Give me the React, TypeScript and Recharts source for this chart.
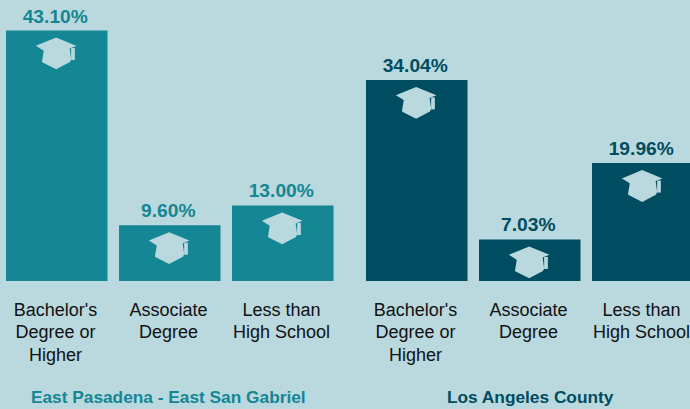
import React from "react";
import { BarChart, Bar, XAxis, YAxis, LabelList, Rectangle } from "recharts";

const categories = ["Bachelor's|Degree or|Higher", "Associate|Degree", "Less than|High School"];
const eastValues = [43.1, 9.6, 13.0];
const laValues = [34.04, 7.03, 19.96];
const eastTitle = "East Pasadena - East San Gabriel";
const laTitle = "Los Angeles County";

const BG = "#b9d9df";
const FONT = "'Liberation Sans', Arial, sans-serif";

const capShape = (fill: string) => (props: any) => {
  const { x, y, width, height } = props;
  const cx = x + width / 2 - 0.6;
  const t = y + 7;
  return (
    <g>
      <Rectangle x={x} y={y} width={width} height={height} fill={fill} />
      <g transform={`translate(${cx},${t})`} fill={BG}>
        <path d="M0 0 L20.3 8.4 L13.5 11 L15 22 L13.8 24.6 L0 31.8 L-13.4 25 L-14.2 24.2 L-12.4 13.2 L-20.3 8.3 Z" />
        <rect x={15} y={10.5} width={3.7} height={12} />
      </g>
    </g>
  );
};

const Tick = (props: any) => {
  const { x, payload } = props;
  const lines = String(payload.value).split("|");
  return (
    <text x={x - 1} textAnchor="middle" fontFamily={FONT} fontSize={18} fill="#111111">
      {lines.map((l: string, i: number) => (
        <tspan key={i} x={x - 1} y={316 + i * 22.3}>{l}</tspan>
      ))}
    </text>
  );
};

function Panel({ values, color, title, left, maxY, titleDx }: { values: number[]; color: string; title: string; left: number; maxY: number; titleDx: number }) {
  const data = categories.map((c, i) => ({ name: c, value: values[i] }));
  return (
    <div style={{ position: "absolute", left, top: 0 }}>
      <BarChart width={339} height={409} data={data} margin={{ top: 30.5, right: 0, bottom: 0, left: 0 }} barCategoryGap={0}>
        <XAxis
          dataKey="name"
          axisLine={false}
          tickLine={false}
          interval={0}
          tick={<Tick />}
          height={128}
          label={{ value: title, position: "insideBottom", offset: 6, dx: titleDx, fontFamily: FONT, fontSize: 17.3, fontWeight: 700, fill: color }}
        />
        <YAxis hide domain={[0, maxY]} />
        <Bar dataKey="value" barSize={101.5} isAnimationActive={false} shape={capShape(color)}>
          <LabelList
            dataKey="value"
            position="top"
            offset={8}
            dx={-1.5}
            formatter={(v: number) => `${v.toFixed(2)}%`}
            style={{ fontFamily: FONT, fontSize: 19.2, fontWeight: 700, fill: color }}
          />
        </Bar>
      </BarChart>
    </div>
  );
}

export default function App() {
  return (
    <div style={{ position: "fixed", left: 0, top: 0, width: 690, height: 409, overflow: "hidden", background: BG }}>
      <Panel values={eastValues} color="#158693" title={eastTitle} left={-0.4} maxY={43.1} titleDx={-1.2} />
      <Panel values={laValues} color="#004c60" title={laTitle} left={360} maxY={42.4} titleDx={0.7} />
    </div>
  );
}
